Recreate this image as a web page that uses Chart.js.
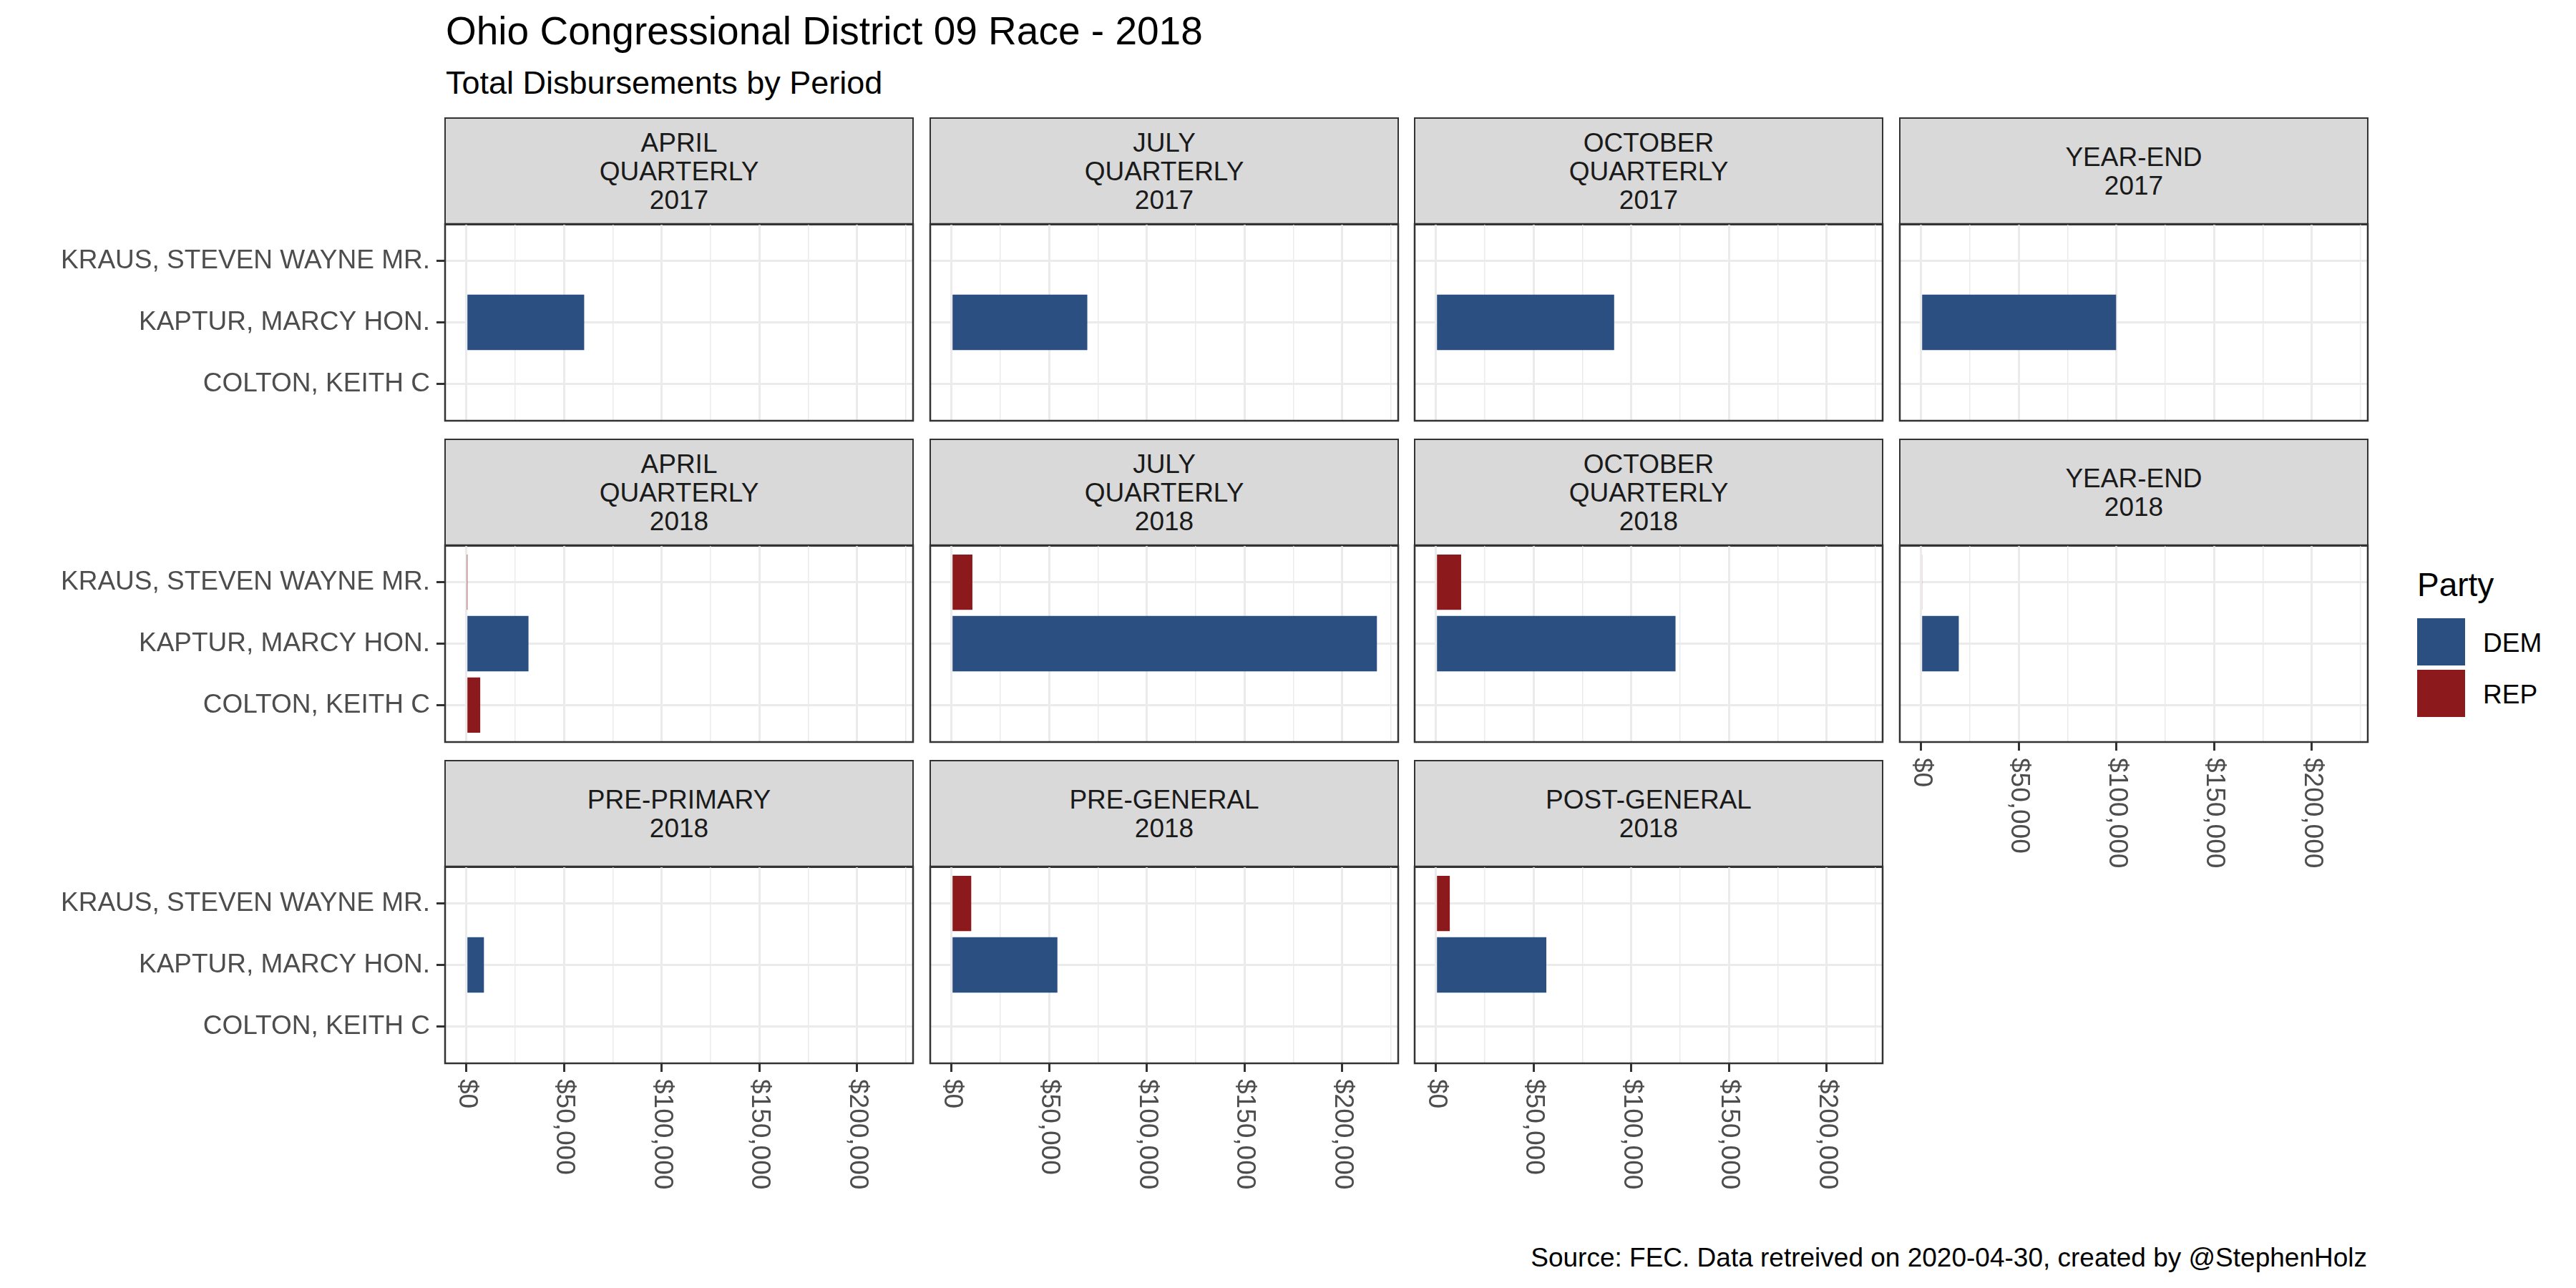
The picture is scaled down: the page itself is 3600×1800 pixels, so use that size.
<!DOCTYPE html>
<html>
<head>
<meta charset="utf-8">
<script src="https://cdn.jsdelivr.net/npm/chart.js@4.4.0/dist/chart.umd.min.js"></script>
<style>
  body { margin: 0; width: 3600px; height: 1800px; background: #fff; position: relative; overflow: hidden;
         font-family: "Liberation Sans", Arial, sans-serif; }
  .txt { position: absolute; white-space: nowrap; }
  canvas { position: absolute; }
  .strip { position: absolute; box-sizing: border-box; background: #D9D9D9; border: 2.5px solid #333;
           display: flex; align-items: center; justify-content: center; text-align: center;
           font-size: 37px; line-height: 40px; color: #1A1A1A; white-space: pre; }
  .key { position: absolute; width: 67px; height: 66px; }
</style>
</head>
<body>
<div class="txt" style="left:623px; top:16px; font-size:55px; line-height:55px; color:#000;">Ohio Congressional District 09 Race - 2018</div>
<div class="txt" style="left:623px; top:93px; font-size:45px; line-height:45px; color:#000;">Total Disbursements by Period</div>
<div class="txt" style="right:292px; top:1739px; font-size:37px; line-height:37px; color:#000; text-align:right;">Source: FEC. Data retreived on 2020-04-30, created by @StephenHolz</div>

<div class="txt" style="left:3378px; top:794px; font-size:46px; line-height:46px; color:#000;">Party</div>
<div class="key" id="keyDEM" style="left:3378px; top:864px;"></div>
<div class="key" id="keyREP" style="left:3378px; top:936px;"></div>
<div class="txt" style="left:3470px; top:880px; font-size:37px; line-height:37px; color:#000;">DEM</div>
<div class="txt" style="left:3470px; top:952px; font-size:37px; line-height:37px; color:#000;">REP</div>

<script>
// --- Data ---
const candidates = ['COLTON, KEITH C', 'KAPTUR, MARCY HON.', 'KRAUS, STEVEN WAYNE MR.'];
const candidateParty = ['REP', 'DEM', 'REP'];

const periods = [
    'APRIL\nQUARTERLY\n2017', 'JULY\nQUARTERLY\n2017', 'OCTOBER\nQUARTERLY\n2017', 'YEAR-END\n2017',
    'APRIL\nQUARTERLY\n2018', 'JULY\nQUARTERLY\n2018', 'OCTOBER\nQUARTERLY\n2018', 'YEAR-END\n2018',
    'PRE-PRIMARY\n2018', 'PRE-GENERAL\n2018', 'POST-GENERAL\n2018'
];

const coltonValues = [null, null, null, null, 7100, null, null, null, null, null, null];
const kapturValues = [60300, 69500, 91200, 99800, 31800, 217700, 122600, 19300, 9000, 54200, 56500];
const krausValues  = [null, null, null, null, 300, 10700, 12900, 500, null, 10100, 7100];

const partyNames = ['DEM', 'REP'];
const partyColors = ['#2C4F82', '#8C1A1D'];

const xTickValues = [0, 50000, 100000, 150000, 200000];
const xTickLabels = ['$0', '$50,000', '$100,000', '$150,000', '$200,000'];
const xMinorValues = [25000, 75000, 125000, 175000, 225000];

// --- Layout ---
const colLeft = [622, 1300, 1977, 2655];
const stripTop = [164, 613, 1062];
const stripH = 149, panelW = 654, panelH = 275;
const bottomMargin = 300, edge = 4;

const seriesByCandidate = [coltonValues, kapturValues, krausValues];
const allValues = seriesByCandidate.flat().filter(v => v !== null);
const xMaxData = Math.max(...allValues);
const colorFor = party => partyColors[partyNames.indexOf(party)];

document.getElementById('keyDEM').style.background = colorFor('DEM');
document.getElementById('keyREP').style.background = colorFor('REP');

// --- Panel border + rotated x labels ---
const panelFrame = {
    id: 'panelFrame',
    afterDraw(chart, args, opts) {
        const { ctx, chartArea: a } = chart;
        ctx.save();
        ctx.strokeStyle = '#333333';
        ctx.lineWidth = 2.5;
        ctx.strokeRect(a.left, a.top, a.right - a.left, a.bottom - a.top);
        if (opts.bottomLabels) {
            ctx.fillStyle = '#4D4D4D';
            ctx.font = '37px "Liberation Sans"';
            ctx.textAlign = 'left';
            ctx.textBaseline = 'middle';
            xTickValues.forEach((v, i) => {
                const x = chart.scales.x.getPixelForValue(v);
                ctx.save();
                ctx.translate(x, a.bottom + 22);
                ctx.rotate(Math.PI / 2);
                ctx.fillText(xTickLabels[i], 0, 0);
                ctx.restore();
            });
        }
        ctx.restore();
    }
};

// --- Build panels ---
periods.forEach((period, p) => {
    const row = Math.floor(p / 4), col = p % 4;
    const isLeft = col === 0;
    const isBottom = p >= 7;
    const panelTop = stripTop[row] + stripH;

    const strip = document.createElement('div');
    strip.className = 'strip';
    strip.style.left = (colLeft[col] - 1) + 'px';
    strip.style.top = stripTop[row] + 'px';
    strip.style.width = (panelW + 2) + 'px';
    strip.style.height = (stripH + 2) + 'px';
    strip.textContent = period;
    document.body.appendChild(strip);

    const canvas = document.createElement('canvas');
    const cLeft = isLeft ? 0 : colLeft[col] - edge;
    const cTop = panelTop - edge;
    canvas.width = colLeft[col] + panelW + edge - cLeft;
    canvas.height = panelH + edge + (isBottom ? bottomMargin : edge);
    canvas.style.left = cLeft + 'px';
    canvas.style.top = cTop + 'px';
    document.body.appendChild(canvas);

    const data = [], colors = [];
    seriesByCandidate.forEach((vals, i) => {
        if (vals[p] !== null) {
            data.push({ x: vals[p], y: i + 1 });
            colors.push(colorFor(candidateParty[i]));
        }
    });

    new Chart(canvas, {
        type: 'bar',
        data: {
            datasets: [{
                data: data,
                backgroundColor: colors,
                borderWidth: 0,
                categoryPercentage: 0.9,
                barPercentage: 1.0
            }]
        },
        plugins: [panelFrame],
        options: {
            indexAxis: 'y',
            responsive: false,
            animation: false,
            devicePixelRatio: 1,
            layout: { padding: { left: isLeft ? 0 : edge, top: edge, right: edge, bottom: isBottom ? 0 : edge } },
            plugins: {
                legend: { display: false },
                tooltip: { enabled: false },
                panelFrame: { bottomLabels: isBottom }
            },
            scales: {
                x: {
                    type: 'linear',
                    bounds: 'data',
                    offset: false,
                    min: -0.05 * xMaxData,
                    max: 1.05 * xMaxData,
                    afterBuildTicks: s => {
                        s.ticks = [...xTickValues, ...xMinorValues].sort((a, b) => a - b).map(v => ({ value: v }));
                    },
                    afterFit: s => {
                        s.height = isBottom ? bottomMargin : 0;
                        s.paddingLeft = 0; s.paddingRight = 0;
                    },
                    ticks: { display: false },
                    border: { display: false },
                    grid: {
                        offset: false,
                        color: '#EBEBEB',
                        lineWidth: c => (c.tick && c.tick.value % 50000 === 0) ? 3 : 1.5,
                        drawTicks: isBottom,
                        tickLength: 12,
                        tickWidth: 3,
                        tickColor: c => (c.tick && c.tick.value % 50000 === 0) ? '#333333' : 'rgba(0,0,0,0)'
                    }
                },
                y: {
                    type: 'linear',
                    bounds: 'data',
                    offset: false,
                    min: 0.4,
                    max: 3.6,
                    afterBuildTicks: s => { s.ticks = candidates.map((c, i) => ({ value: i + 1 })); },
                    afterFit: s => {
                        s.width = isLeft ? colLeft[0] : 0;
                        s.paddingTop = 0; s.paddingBottom = 0;
                    },
                    ticks: {
                        display: isLeft,
                        autoSkip: false,
                        padding: 9,
                        color: '#4D4D4D',
                        font: { family: 'Liberation Sans', size: 37 },
                        callback: v => candidates[v - 1]
                    },
                    border: { display: false },
                    grid: {
                        offset: false,
                        color: '#EBEBEB',
                        lineWidth: 3,
                        drawTicks: isLeft,
                        tickLength: 12,
                        tickWidth: 3,
                        tickColor: '#333333'
                    }
                }
            }
        }
    });
});
</script>
</body>
</html>
